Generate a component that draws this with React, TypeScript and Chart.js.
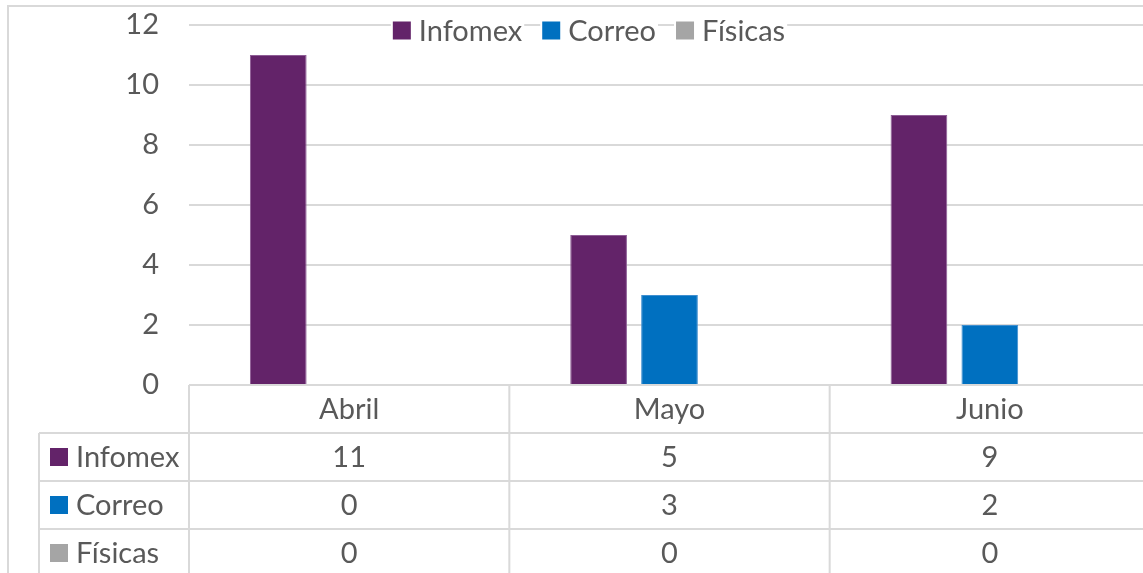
import React, { useEffect, useRef } from "react";
import { Chart, registerables } from "chart.js";

Chart.register(...registerables);

const categories = ["Abril", "Mayo", "Junio"];
const seriesNames = ["Infomex", "Correo", "Físicas"];
const infomex = [11, 5, 9];
const correo = [0, 3, 2];
const fisicas = [0, 0, 0];
const seriesValues = [infomex, correo, fisicas];
const seriesColors = ["#632369", "#0070C0", "#A5A5A5"];
const seriesBorders = ["#8e5d96", "#3f8fd0", "#bdbdbd"];
const yTicks = [0, 2, 4, 6, 8, 10, 12];

const FONT = "Lato, 'Open Sans', sans-serif";
const FS = 29;
const TEXT = "#595959";
const LINE = "#d9d9d9";

const tablePlugin = {
  id: "excelTable",
  afterDraw(chart: any) {
    const ctx = chart.ctx as CanvasRenderingContext2D;
    const x = chart.scales.x;
    const area = chart.chartArea;
    const n = categories.length;
    const catW = (area.right - area.left) / n;
    const rowH = 48;
    const top = area.bottom;
    const tableLeft = 32;
    const right = area.right;
    ctx.save();
    ctx.strokeStyle = LINE;
    ctx.lineWidth = 2;
    // outer chart border (top & left)
    ctx.beginPath();
    ctx.moveTo(0, 1);
    ctx.lineTo(chart.width, 1);
    ctx.moveTo(1, 0);
    ctx.lineTo(1, chart.height);
    ctx.stroke();
    // horizontal lines
    ctx.beginPath();
    ctx.moveTo(area.left, top);
    ctx.lineTo(right, top);
    for (let r = 1; r <= 4; r++) {
      ctx.moveTo(tableLeft, top + r * rowH);
      ctx.lineTo(right, top + r * rowH);
    }
    // vertical lines
    ctx.moveTo(tableLeft, top + rowH);
    ctx.lineTo(tableLeft, top + 5 * rowH);
    for (let i = 0; i <= n; i++) {
      const vx = area.left + i * catW;
      ctx.moveTo(vx, top);
      ctx.lineTo(vx, top + 5 * rowH);
    }
    ctx.stroke();

    ctx.font = `${FS}px ${FONT}`;
    ctx.fillStyle = TEXT;
    ctx.textBaseline = "middle";
    ctx.textAlign = "center";
    categories.forEach((c, i) => {
      ctx.fillText(c, x.getPixelForValue(i), top + rowH / 2 + 1);
    });
    seriesNames.forEach((s, r) => {
      const cy = top + (r + 1) * rowH + rowH / 2;
      ctx.fillStyle = seriesColors[r];
      ctx.fillRect(43, cy - 9, 18, 18);
      ctx.fillStyle = TEXT;
      ctx.textAlign = "left";
      ctx.fillText(s, 69, cy + 1);
      ctx.textAlign = "center";
      seriesValues[r].forEach((v, i) => {
        ctx.fillText(String(v), x.getPixelForValue(i), cy + 1);
      });
    });

    // legend at top
    const items = seriesNames.map((s) => ctx.measureText(s).width);
    const box = 18;
    const gapBoxText = 8;
    const gapItems = 20;
    const total =
      items.reduce((a, w) => a + box + gapBoxText + w, 0) + gapItems * (items.length - 1);
    let lx = 582 - total / 2;
    const ly = 25.5;
    seriesNames.forEach((s, i) => {
      ctx.fillStyle = "#ffffff";
      ctx.fillRect(lx - 2, ly - 14, box + gapBoxText + items[i] + 4, 28);
      ctx.fillStyle = seriesColors[i];
      ctx.fillRect(lx, ly - box / 2, box, box);
      ctx.fillStyle = TEXT;
      ctx.textAlign = "left";
      ctx.fillText(s, lx + box + gapBoxText, ly + 1);
      lx += box + gapBoxText + items[i] + gapItems;
    });
    ctx.restore();
  },
};

export default function App() {
  const ref = useRef<HTMLCanvasElement | null>(null);
  useEffect(() => {
    if (!ref.current) return;
    const chart = new Chart(ref.current, {
      type: "bar",
      data: {
        labels: categories,
        datasets: seriesNames.map((name, i) => ({
          label: name,
          data: seriesValues[i],
          backgroundColor: seriesColors[i],
          borderColor: seriesBorders[i],
          borderWidth: 1,
          categoryPercentage: 0.664,
          barPercentage: 0.8,
        })),
      },
      options: {
        animation: false,
        responsive: false,
        maintainAspectRatio: false,
        layout: { padding: { top: 20, bottom: 210, right: 17, left: 0 } },
        plugins: {
          legend: { display: false },
          tooltip: { enabled: false },
        },
        scales: {
          x: { display: false },
          y: {
            min: 0,
            max: 12,
            afterFit(scale: any) {
              scale.width = 182;
            },
            afterBuildTicks(scale: any) {
              scale.ticks = yTicks.map((v) => ({ value: v }));
            },
            border: { display: false },
            grid: {
              color: LINE,
              lineWidth: 2,
              drawTicks: true,
              tickLength: 30,
              tickColor: "rgba(0,0,0,0)",
            },
            ticks: {
              padding: 0,
              color: TEXT,
              font: { family: FONT, size: FS },
            },
          },
        },
      },
      plugins: [tablePlugin],
    });
    return () => chart.destroy();
  }, []);
  return (
    <div
      style={{
        position: "fixed",
        left: 0,
        top: 0,
        width: 1143,
        height: 573,
        overflow: "hidden",
        background: "#fff",
      }}
    >
      <canvas
        ref={ref}
        width={1160}
        height={590}
        style={{ position: "absolute", left: 7, top: 5, width: 1160, height: 590 }}
      />
    </div>
  );
}
